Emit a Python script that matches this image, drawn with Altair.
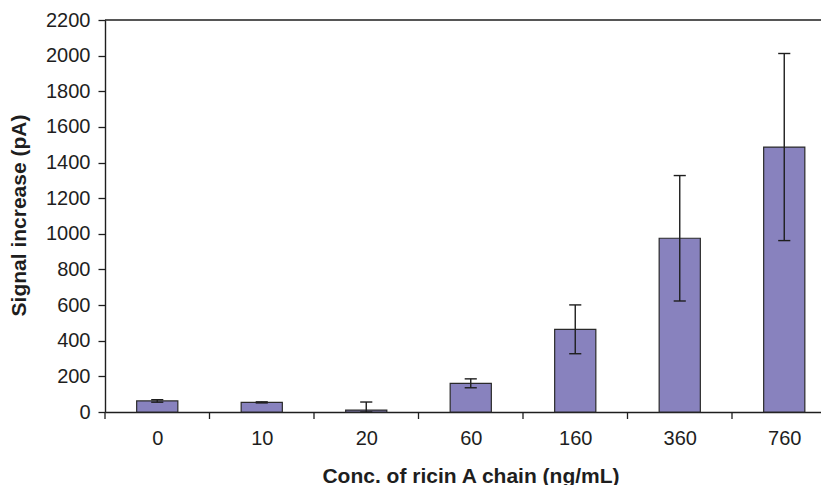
import altair as alt
import pandas as pd

# ---- data ----
conc = ["0", "10", "20", "60", "160", "360", "760"]
mean = [62, 54, 11, 161, 464, 975, 1487]
err = [7, 3, 45, 25, 137, 352, 525]
y_ticks = [0, 200, 400, 600, 800, 1000, 1200, 1400, 1600, 1800, 2000, 2200]

x_title = "Conc. of ricin A chain (ng/mL)"
y_title = "Signal increase (pA)"

df = pd.DataFrame({"idx": list(range(len(conc))), "conc": conc, "mean": mean, "err": err})
bounds = pd.DataFrame({"b": [i - 0.5 for i in range(len(conc))]})
one = pd.DataFrame({"a": [0]})

W, H = 716, 392
band = 104.5
xdom = [-0.5, -0.5 + W / band]

FONT = "Liberation Sans"
INK = "#1e1e1e"
label_expr = "[" + ",".join(f"'{c}'" for c in conc) + "][datum.value]"

xscale = alt.Scale(domain=xdom, nice=False, zero=False)
yscale = alt.Scale(domain=[0, 2200], nice=False)

xaxis = alt.Axis(
    values=list(range(len(conc))),
    labelExpr=label_expr,
    ticks=False,
    tickSize=0,
    labelPadding=16,
    labelFontSize=20,
    labelFont=FONT,
    labelColor=INK,
    labelFlush=False,
    labelOverlap=False,
    domainColor=INK,
    domainWidth=1.4,
    title=x_title,
    titleFont=FONT,
    titleFontSize=21,
    titleFontWeight="bold",
    titleColor=INK,
    titleX=365.5,
    titleY=70,
    titleAlign="center",
    titleBaseline="alphabetic",
)
yaxis = alt.Axis(
    values=y_ticks,
    format="d",
    tickSize=7,
    tickColor=INK,
    tickWidth=1.3,
    labelPadding=8,
    labelFontSize=20,
    labelFont=FONT,
    labelColor=INK,
    labelFlush=False,
    labelOverlap=False,
    domainColor=INK,
    domainWidth=1.4,
    title=y_title,
    titleFont=FONT,
    titleFontSize=21,
    titleFontWeight="bold",
    titleColor=INK,
    titleAngle=270,
    titleX=-79.5,
    titleY=195,
    titleAlign="center",
    titleBaseline="alphabetic",
)

base = alt.Chart(df).transform_calculate(
    x1="datum.idx - 0.197",
    x2="datum.idx + 0.197",
    lo="max(0, datum.mean - datum.err)",
    hi="datum.mean + datum.err",
    cl="datum.idx - 0.058",
    cr="datum.idx + 0.058",
)

bars = base.mark_bar(color="#8882BE", stroke="#2a2a2a", strokeWidth=1.2).encode(
    x=alt.X("x1:Q", scale=xscale, axis=xaxis),
    x2="x2:Q",
    y=alt.Y("mean:Q", scale=yscale, axis=yaxis),
    y2=alt.datum(0),
)

vline = base.mark_rule(color=INK, strokeWidth=1.4).encode(
    x=alt.X("idx:Q", scale=xscale, axis=xaxis),
    y=alt.Y("lo:Q", scale=yscale, axis=yaxis),
    y2="hi:Q",
)
cap_hi = base.mark_rule(color=INK, strokeWidth=1.4).encode(
    x=alt.X("cl:Q", scale=xscale, axis=xaxis),
    x2="cr:Q",
    y=alt.Y("hi:Q", scale=yscale, axis=yaxis),
)
cap_lo = base.mark_rule(color=INK, strokeWidth=1.4).encode(
    x=alt.X("cl:Q", scale=xscale, axis=xaxis),
    x2="cr:Q",
    y=alt.Y("lo:Q", scale=yscale, axis=yaxis),
)

xticks = alt.Chart(bounds).mark_rule(color=INK, strokeWidth=1.3).encode(
    x=alt.X("b:Q", scale=xscale, axis=xaxis),
    y=alt.value(H),
    y2=alt.value(H + 7),
)

top_line = alt.Chart(one).mark_rule(color=INK, strokeWidth=1.4).encode(
    x=alt.value(0), x2=alt.value(W), y=alt.value(0)
)

chart = (
    alt.layer(bars, vline, cap_hi, cap_lo, xticks, top_line)
    .properties(
        width=W,
        height=H,
        autosize=alt.AutoSizeParams(type="none"),
        padding={"left": 97, "top": 12, "right": 0, "bottom": 73},
        background="white",
    )
    .configure_view(stroke=None)
    .configure_axis(grid=False)
)

chart.save("out.html", embed_options={"renderer": "svg", "actions": False})
